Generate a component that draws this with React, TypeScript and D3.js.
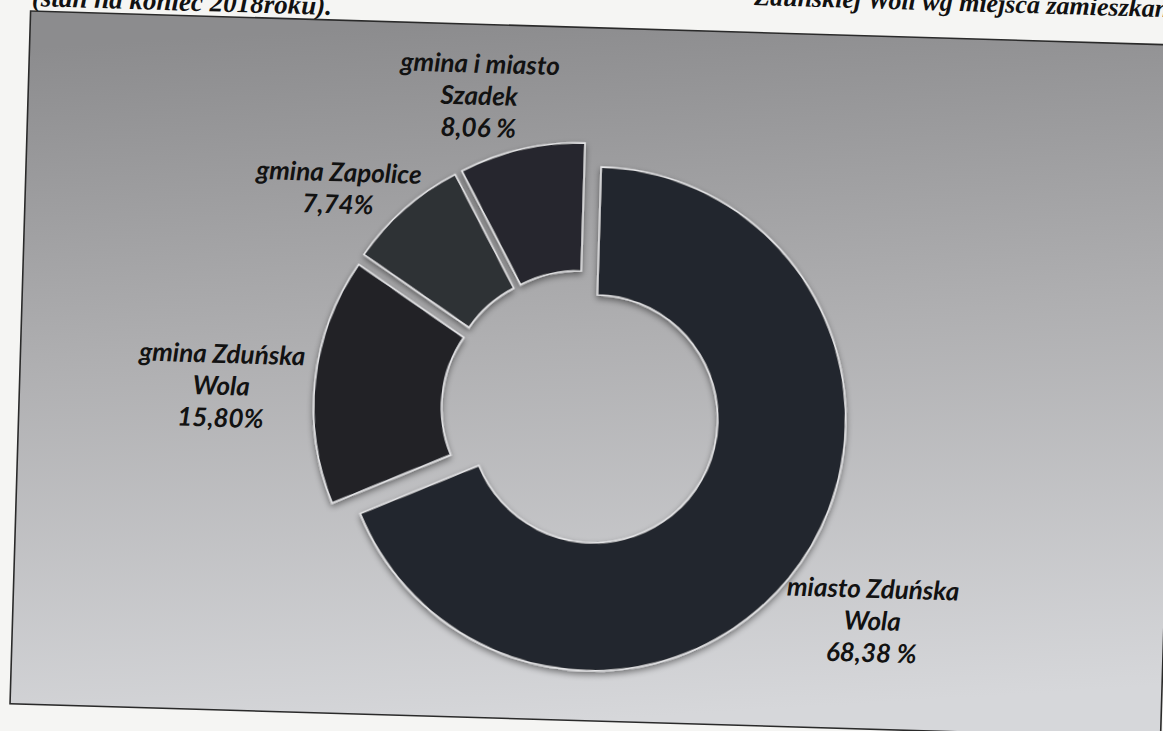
import React from "react";
import * as d3 from "d3";

// ---- data ----
const categories = ["miasto Zduńska Wola", "gmina Zduńska Wola", "gmina Zapolice", "gmina i miasto Szadek"];
const values = [68.38, 15.8, 7.74, 8.06];
const labelLines = [["miasto Zduńska", "Wola"], ["gmina Zduńska", "Wola"], ["gmina Zapolice"], ["gmina i miasto", "Szadek"]];
const percentSuffix = [" %", "%", "%", " %"];
const headerLine1 = "Zduńskiej Woli wg miejsca zamieszkania";
const headerLine2 = "(stan na koniec 2018roku).";

// ---- layout / style ----
const W = 1163;
const H = 731;
const CX = 581;
const CY = 410;
const R_OUT = 252;
const R_IN = 124;
const EXPLODE = 15.5;
const ROT = 1.7;
const LINE_H = 32;
const sliceColors = ["#24272e", "#202228", "#2e3035", "#26282d"];
const labelPolar = [
  { a: 125.4, d: 364.8 },
  { a: 270.7, d: 360.3 },
  { a: 309.5, d: 322.8 },
  { a: 339.8, d: 321.8 },
];

const fmt = (v: number) => d3.format(".2f")(v).replace(".", ",");

export default function App() {
  const pie = d3.pie<number>().sort(null).value((d) => d).startAngle(0).endAngle(2 * Math.PI);
  const arcs = pie(values);
  const arc = d3.arc<d3.PieArcDatum<number>>().innerRadius(R_IN).outerRadius(R_OUT);

  return (
    <svg width={W} height={H} style={{ position: "fixed", left: 0, top: 0, background: "#f5f5f3" }}>
      <defs>
        <linearGradient id="bg" x1="0.35" y1="0" x2="0.5" y2="1">
          <stop offset="0" stopColor="#8c8c8e" />
          <stop offset="0.45" stopColor="#afafb1" />
          <stop offset="1" stopColor="#d6d7da" />
        </linearGradient>
        <filter id="sh" x="-20%" y="-20%" width="140%" height="140%">
          <feDropShadow dx="0" dy="3" stdDeviation="3" floodColor="#000" floodOpacity="0.45" />
        </filter>
      </defs>
      <g transform={`rotate(${ROT}, ${CX}, ${CY})`}>
        <text
          x={742}
          y={0}
          fontFamily="'Liberation Serif', 'Times New Roman', serif"
          fontWeight="bold"
          fontStyle="italic"
          fontSize={26}
          fill="#111"
        >
          {headerLine1}
        </text>
        <text
          x={20}
          y={22.5}
          fontFamily="'Liberation Serif', 'Times New Roman', serif"
          fontWeight="bold"
          fontStyle="italic"
          fontSize={27}
          fill="#111"
        >
          {headerLine2}
        </text>
        <rect x={19} y={27.5} width={1151} height={693} fill="url(#bg)" stroke="#2a2a2a" strokeWidth={1.6} />
        <g transform={`translate(${CX}, ${CY})`}>
          {arcs.map((a, i) => {
            const mid = (a.startAngle + a.endAngle) / 2;
            const dx = Math.sin(mid) * EXPLODE;
            const dy = -Math.cos(mid) * EXPLODE;
            return (
              <path
                key={categories[i]}
                d={arc(a) || ""}
                transform={`translate(${dx}, ${dy})`}
                fill={sliceColors[i]}
                stroke="#e6e6e8"
                strokeWidth={1.6}
                filter="url(#sh)"
              />
            );
          })}
          {arcs.map((a, i) => {
            const p = labelPolar[i];
            const ang = (p.a * Math.PI) / 180;
            const x = Math.sin(ang) * p.d;
            const y = -Math.cos(ang) * p.d;
            const lines = [...labelLines[i], fmt(values[i]) + percentSuffix[i]];
            const n = lines.length;
            return (
              <text
                key={"l" + i}
                textAnchor="middle"
                fontFamily="Lato, 'Open Sans', sans-serif"
                fontWeight="bold"
                fontStyle="italic"
                fontSize={26}
                fill="#121212"
              >
                {lines.map((s, j) => (
                  <tspan key={j} x={x} y={y + (j - (n - 1) / 2) * LINE_H}>
                    {s}
                  </tspan>
                ))}
              </text>
            );
          })}
        </g>
      </g>
    </svg>
  );
}
